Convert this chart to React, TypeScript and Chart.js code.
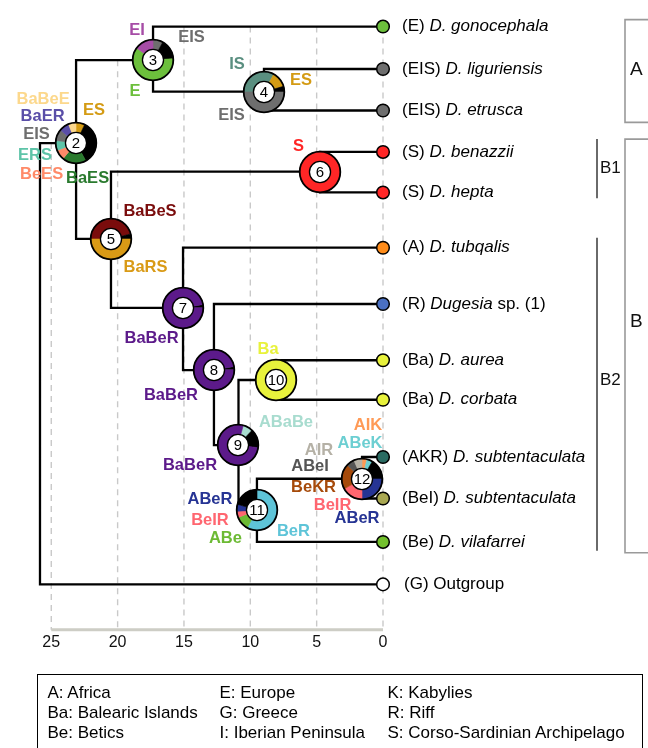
import React, { useEffect, useRef, useState } from 'react';
import { Chart, registerables } from 'chart.js';

Chart.register(...registerables);

const FONT = '"Liberation Sans", Arial, Helvetica, sans-serif';
Chart.defaults.font.family = FONT;

// ---------- Tips (top to bottom) ----------
const TIP_CODES = ['E', 'EIS', 'EIS', 'S', 'S', 'A', 'R', 'Ba', 'Ba', 'AKR', 'BeI', 'Be', 'G'];
const TIP_NAMES = ['D. gonocephala', 'D. liguriensis', 'D. etrusca', 'D. benazzii', 'D. hepta', 'D. tubqalis', 'Dugesia', 'D. aurea', 'D. corbata', 'D. subtentaculata', 'D. subtentaculata', 'D. vilafarrei', 'Outgroup'];
const TIP_SUFFIX = ['', '', '', '', '', '', ' sp. (1)', '', '', '', '', '', ''];
const TIP_ITALIC = [true, true, true, true, true, true, true, true, true, true, true, true, false];
const TIP_Y = [19, 62, 104, 146, 187, 243, 300, 357, 397, 455, 497, 541, 584];
const TIP_PARENT = [3, 4, 4, 6, 6, 7, 8, 10, 10, 12, 12, 11, 1];

// ---------- Internal nodes (node number = index + 1; node 1 = root) ----------
const NODE_PARENT = [0, 1, 2, 3, 2, 5, 5, 7, 8, 9, 9, 11];
const NODE_AGE = [25.85, 23.13, 17.33, 8.97, 20.5, 4.75, 15.07, 12.74, 10.89, 8.06, 9.5, 1.58];
const NODE_Y = [360, 137, 53, 85, 234, 166, 304, 367, 443, 377, 509, 477];

const X_TICKS = [25, 20, 15, 10, 5, 0];

// ---------- Ancestral area probabilities (clockwise) ----------
const N2_AREAS = ['ES', 'other', 'BaES', 'BeES', 'ERS', 'EIS', 'BaER', 'BaBeE'];
const N2_PROBS = [0.07, 0.35, 0.19, 0.08, 0.08, 0.09, 0.08, 0.06];
const N3_AREAS = ['EIS', 'other', 'E', 'EI'];
const N3_PROBS = [0.08, 0.16, 0.61, 0.15];
const N4_AREAS = ['IS', 'ES', 'other', 'EIS'];
const N4_PROBS = [0.33, 0.125, 0.045, 0.5];
const N5_AREAS = ['BaBeS', 'other', 'BaRS'];
const N5_PROBS = [0.46, 0.04, 0.5];
const N6_AREAS = ['S'];
const N6_PROBS = [1];
const N7_AREAS = ['other', 'BaBeR'];
const N7_PROBS = [0.025, 0.975];
const N8_AREAS = ['other', 'BaBeR'];
const N8_PROBS = [0.025, 0.975];
const N9_AREAS = ['ABaBe', 'other', 'BaBeR'];
const N9_PROBS = [0.08, 0.15, 0.77];
const N10_AREAS = ['Ba'];
const N10_PROBS = [1];
const N11_AREAS = ['BeR', 'ABe', 'BeIR', 'ABeR', 'other'];
const N11_PROBS = [0.58, 0.11, 0.05, 0.055, 0.205];
const N12_AREAS = ['AIK', 'ABeK', 'other', 'ABeR', 'BeIR', 'BeKR', 'ABeI', 'AIR'];
const N12_PROBS = [0.04, 0.045, 0.165, 0.25, 0.17, 0.2, 0.065, 0.065];

// ---------- Region key ----------
const KEY_CODES = ['A', 'Ba', 'Be', 'E', 'G', 'I', 'K', 'R', 'S'];
const KEY_NAMES = ['Africa', 'Balearic Islands', 'Betics', 'Europe', 'Greece', 'Iberian Peninsula', 'Kabylies', 'Riff', 'Corso-Sardinian Archipelago'];

// ---------- Clades ----------
const CLADE_LABELS = ['A', 'B', 'B1', 'B2'];
const CLADE_TOP = [12, 133, 133, 233];
const CLADE_BOTTOM = [116, 552, 193, 550];
const CLADE_LABEL_Y = [63, 318, 163, 377];

// ---------- Styles ----------
const AREA_COLORS: Record<string, string> = {
  other: '#000000', E: '#6cbf3c', EI: '#a64ca6', EIS: '#6e6e6e', IS: '#5a8f80', ES: '#d49b14',
  BaBeE: '#fcd88c', BaER: '#5a4ea8', ERS: '#5ec4a8', BeES: '#ff8a68', BaES: '#2a7a2e', S: '#ff2626',
  BaBeS: '#7a0c0c', BaRS: '#d99a16', BaBeR: '#5c1a8a', Ba: '#e8f23c', ABaBe: '#a8dccf', BeR: '#5ec4d8',
  ABe: '#6cba34', BeIR: '#ff6670', ABeR: '#263494', AIK: '#ff9a56', ABeK: '#6ccfd2', AIR: '#b5b1a6',
  ABeI: '#555555', BeKR: '#a64a0a',
};
const TIP_COLORS: Record<string, string> = {
  E: '#6cbf3c', EIS: '#6e6e6e', S: '#ff2626', A: '#ff8c1a', R: '#4a70c2', Ba: '#e8f23c',
  AKR: '#2a6b62', BeI: '#a9a852', Be: '#72c02c', G: '#ffffff',
};

const PIES = [
  { node: 2, areas: N2_AREAS, probs: N2_PROBS, rot: 0 },
  { node: 3, areas: N3_AREAS, probs: N3_PROBS, rot: 0 },
  { node: 4, areas: N4_AREAS, probs: N4_PROBS, rot: -90 },
  { node: 5, areas: N5_AREAS, probs: N5_PROBS, rot: -90 },
  { node: 6, areas: N6_AREAS, probs: N6_PROBS, rot: 0 },
  { node: 7, areas: N7_AREAS, probs: N7_PROBS, rot: 80 },
  { node: 8, areas: N8_AREAS, probs: N8_PROBS, rot: 80 },
  { node: 9, areas: N9_AREAS, probs: N9_PROBS, rot: 15 },
  { node: 10, areas: N10_AREAS, probs: N10_PROBS, rot: 0 },
  { node: 11, areas: N11_AREAS, probs: N11_PROBS, rot: 0 },
  { node: 12, areas: N12_AREAS, probs: N12_PROBS, rot: 0 },
];

// label placement around each pie: [node, text, dx, dy]
const NODE_LABELS: [number, string, number, number][] = [
  [2, 'BaBeE', -33, -44], [2, 'BaER', -33.5, -27], [2, 'EIS', -39.5, -9], [2, 'ERS', -41, 12],
  [2, 'BeES', -34.5, 31], [2, 'BaES', 11.5, 35], [2, 'ES', 18, -33],
  [3, 'EI', -16, -30], [3, 'EIS', 38.5, -23], [3, 'E', -18, 31],
  [4, 'IS', -27, -27], [4, 'ES', 37, -11], [4, 'EIS', -32.5, 24],
  [5, 'BaBeS', 39, -27], [5, 'BaRS', 34.5, 29],
  [6, 'S', -21.5, -25],
  [7, 'BaBeR', -31.5, 31],
  [8, 'BaBeR', -43, 25],
  [9, 'BaBeR', -48.5, 20], [9, 'ABaBe', 47.5, -23],
  [10, 'Ba', -8, -31],
  [11, 'ABeR', -47, -11], [11, 'BeIR', -47, 10], [11, 'ABe', -31.5, 28], [11, 'BeR', 36.5, 21],
  [12, 'AIK', 6, -53], [12, 'ABeK', -2, -35], [12, 'AIR', -43, -28], [12, 'ABeI', -52, -12],
  [12, 'BeKR', -48.5, 9], [12, 'BeIR', -29.5, 27], [12, 'ABeR', -5, 40],
];

const R_OUT = 20.3;
const CUT = '52%';
const PIE_SIZE = 48;
const TEXT_SIZE = 17;

// ---------- Tree geometry from the data ----------
type Pt = { x: number; y: number | null };
function childrenOf(node: number) {
  const kids: { age: number; y: number }[] = [];
  NODE_PARENT.forEach((p, i) => { if (p === node) kids.push({ age: NODE_AGE[i], y: NODE_Y[i] }); });
  TIP_PARENT.forEach((p, i) => { if (p === node) kids.push({ age: 0, y: TIP_Y[i] }); });
  return kids.sort((a, b) => a.y - b.y);
}
function buildTree() {
  const pts: Pt[] = [];
  const horiz: { a: number; b: number; y: number }[] = [];
  NODE_AGE.forEach((age, i) => {
    const kids = childrenOf(i + 1);
    if (kids.length < 2) return;
    const first = kids[0];
    const last = kids[kids.length - 1];
    pts.push({ x: first.age, y: first.y }, { x: age, y: first.y }, { x: age, y: last.y }, { x: last.age, y: last.y }, { x: age, y: null });
    kids.forEach((k) => horiz.push({ a: Math.min(k.age, age), b: Math.max(k.age, age), y: k.y }));
  });
  return { pts, horiz };
}

function Donut({ cx, cy, num, areas, probs, rot }: any) {
  const ref = useRef<HTMLCanvasElement>(null);
  useEffect(() => {
    const ring = {
      id: 'ring' + num,
      afterDatasetsDraw(chart: any) {
        const arc = chart.getDatasetMeta(0).data[0];
        if (!arc) return;
        const { x, y, outerRadius, innerRadius } = arc.getProps(['x', 'y', 'outerRadius', 'innerRadius'], true);
        const ctx = chart.ctx;
        ctx.save();
        ctx.strokeStyle = '#000';
        ctx.beginPath();
        ctx.arc(x, y, outerRadius, 0, Math.PI * 2);
        ctx.lineWidth = 1.8;
        ctx.stroke();
        ctx.beginPath();
        ctx.arc(x, y, innerRadius, 0, Math.PI * 2);
        ctx.fillStyle = '#fff';
        ctx.fill();
        ctx.lineWidth = 1.3;
        ctx.stroke();
        ctx.fillStyle = '#000';
        ctx.font = `15px ${FONT}`;
        ctx.textAlign = 'center';
        ctx.textBaseline = 'middle';
        ctx.fillText(String(num), x, y + 0.5);
        ctx.restore();
      },
    };
    const colors = areas.map((a: string) => AREA_COLORS[a]);
    const c = new Chart(ref.current as HTMLCanvasElement, {
      type: 'doughnut',
      data: { labels: areas, datasets: [{ data: probs, backgroundColor: colors, borderColor: colors, borderWidth: 0.6 }] },
      options: {
        responsive: false, animation: false, events: [], devicePixelRatio: 1,
        rotation: rot, radius: R_OUT, cutout: CUT,
        layout: { padding: 0 },
        plugins: { legend: { display: false }, tooltip: { enabled: false } },
      } as any,
      plugins: [ring],
    });
    return () => c.destroy();
  }, []);
  return (
    <canvas ref={ref} width={PIE_SIZE} height={PIE_SIZE}
      style={{ position: 'absolute', left: cx - PIE_SIZE / 2, top: cy - PIE_SIZE / 2, width: PIE_SIZE, height: PIE_SIZE }} />
  );
}

export default function App() {
  const ref = useRef<HTMLCanvasElement>(null);
  const [pos, setPos] = useState<{ x: number; y: number }[] | null>(null);

  useEffect(() => {
    const { pts, horiz } = buildTree();
    // dashed guide lines start at the top-most branch crossing each tick
    const grid: Pt[] = [];
    X_TICKS.forEach((t) => {
      const ys = horiz.filter((h) => h.a - 0.01 <= t && t <= h.b + 0.01).map((h) => h.y);
      const top = ys.length ? Math.min(...ys) : 0;
      grid.push({ x: t, y: top }, { x: t, y: 630 }, { x: t, y: null });
    });

    const labelsPlugin = {
      id: 'treeText',
      afterDatasetsDraw(chart: any) {
        const ctx = chart.ctx;
        const xs = chart.scales.x;
        const ys = chart.scales.y;
        ctx.save();
        ctx.textBaseline = 'middle';
        // tip labels
        const x0 = xs.getPixelForValue(0) + 19;
        TIP_Y.forEach((yv, i) => {
          const py = ys.getPixelForValue(yv);
          let x = x0 + (TIP_ITALIC[i] ? 0 : 2);
          ctx.fillStyle = '#000';
          ctx.textAlign = 'left';
          ctx.font = `${TEXT_SIZE}px ${FONT}`;
          const pre = `(${TIP_CODES[i]}) `;
          ctx.fillText(pre, x, py);
          x += ctx.measureText(pre).width;
          ctx.font = `${TIP_ITALIC[i] ? 'italic ' : ''}${TEXT_SIZE}px ${FONT}`;
          ctx.fillText(TIP_NAMES[i], x, py);
          x += ctx.measureText(TIP_NAMES[i]).width;
          if (TIP_SUFFIX[i]) {
            ctx.font = `${TEXT_SIZE}px ${FONT}`;
            ctx.fillText(TIP_SUFFIX[i], x, py);
          }
        });
        // area labels around pies
        ctx.textAlign = 'center';
        ctx.font = `bold 16.5px ${FONT}`;
        NODE_LABELS.forEach(([n, txt, dx, dy]) => {
          const px = xs.getPixelForValue(NODE_AGE[n - 1]);
          const py = ys.getPixelForValue(NODE_Y[n - 1]);
          ctx.fillStyle = AREA_COLORS[txt];
          ctx.fillText(txt, px + dx, py + dy);
        });
        // clade brackets
        const right = xs.getPixelForValue(0);
        CLADE_LABELS.forEach((lab, i) => {
          const t = ys.getPixelForValue(CLADE_TOP[i]);
          const b = ys.getPixelForValue(CLADE_BOTTOM[i]);
          const outer = lab.length === 1;
          const lx = outer ? right + 242 : right + 214;
          ctx.beginPath();
          if (outer) {
            ctx.moveTo(chart.width + 2, t);
            ctx.lineTo(lx, t);
            ctx.lineTo(lx, b);
            ctx.lineTo(chart.width + 2, b);
            ctx.strokeStyle = '#9a9a9a';
            ctx.lineWidth = 1.6;
          } else {
            ctx.moveTo(lx, t);
            ctx.lineTo(lx, b);
            ctx.strokeStyle = '#6a6a6a';
            ctx.lineWidth = 2;
          }
          ctx.stroke();
          ctx.fillStyle = '#111';
          ctx.textAlign = 'left';
          ctx.font = outer ? `19px ${FONT}` : `${TEXT_SIZE}px ${FONT}`;
          ctx.fillText(lab, lx + (outer ? 5 : 3), ys.getPixelForValue(CLADE_LABEL_Y[i]));
        });
        ctx.restore();
      },
    };

    const chart = new Chart(ref.current as HTMLCanvasElement, {
      type: 'line',
      data: {
        datasets: [
          {
            type: 'scatter', label: 'tips', data: TIP_Y.map((y) => ({ x: 0, y })),
            pointRadius: 6.3, pointBackgroundColor: TIP_CODES.map((c) => TIP_COLORS[c]),
            pointBorderColor: '#000', pointBorderWidth: 1.5, clip: false, order: 0,
          } as any,
          {
            label: 'tree', data: pts, borderColor: '#000', borderWidth: 2.3, pointRadius: 0,
            spanGaps: false, tension: 0, borderJoinStyle: 'miter', borderCapStyle: 'butt', clip: false, order: 1,
          },
          {
            label: 'axis', data: [{ x: X_TICKS[0], y: 630 }, { x: X_TICKS[X_TICKS.length - 1], y: 630 }],
            borderColor: '#cdcdc5', borderWidth: 3, pointRadius: 0, clip: false, order: 2,
          },
          {
            label: 'grid', data: grid, borderColor: '#c9c9c9', borderWidth: 1.4, borderDash: [6, 5],
            pointRadius: 0, spanGaps: false, clip: false, order: 3,
          },
        ],
      },
      options: {
        responsive: false, animation: false, events: [], devicePixelRatio: 1,
        layout: { padding: { left: 38, right: 265, top: 0, bottom: 93 } },
        plugins: { legend: { display: false }, tooltip: { enabled: false } },
        scales: {
          x: {
            type: 'linear', reverse: true, min: 0, max: 26,
            grid: { display: false, drawTicks: false }, border: { display: false },
            ticks: { font: { size: 16, family: FONT }, color: '#111', padding: 3 },
            afterBuildTicks: (s: any) => { s.ticks = X_TICKS.map((v) => ({ value: v })); },
          },
          y: { type: 'linear', reverse: true, min: 0, max: 630, display: false },
        },
      } as any,
      plugins: [labelsPlugin],
    });

    const xs = chart.scales.x;
    const ys = chart.scales.y;
    setPos(NODE_AGE.map((a, i) => ({ x: xs.getPixelForValue(a), y: ys.getPixelForValue(NODE_Y[i]) })));
    return () => chart.destroy();
  }, []);

  return (
    <div style={{ position: 'absolute', left: 0, top: 0, width: 648, height: 748, overflow: 'hidden', background: '#fff', fontFamily: FONT }}>
      <canvas ref={ref} width={648} height={748} style={{ position: 'absolute', left: 0, top: 0, width: 648, height: 748 }} />
      {pos && PIES.map((p) => (
        <Donut key={p.node} cx={pos[p.node - 1].x} cy={pos[p.node - 1].y} num={p.node} areas={p.areas} probs={p.probs} rot={p.rot} />
      ))}
      <div style={{ position: 'absolute', left: 37, top: 674, width: 604, height: 80, border: '1.5px solid #000', boxSizing: 'content-box' }}>
        {[0, 1, 2].map((col) => (
          <div key={col} style={{ position: 'absolute', left: [9.5, 181.5, 349.5][col], top: 8, fontSize: TEXT_SIZE, lineHeight: '20px', color: '#000', whiteSpace: 'nowrap' }}>
            {KEY_CODES.slice(col * 3, col * 3 + 3).map((c, i) => (
              <div key={c}>{`${c}: ${KEY_NAMES[col * 3 + i]}`}</div>
            ))}
          </div>
        ))}
      </div>
    </div>
  );
}
